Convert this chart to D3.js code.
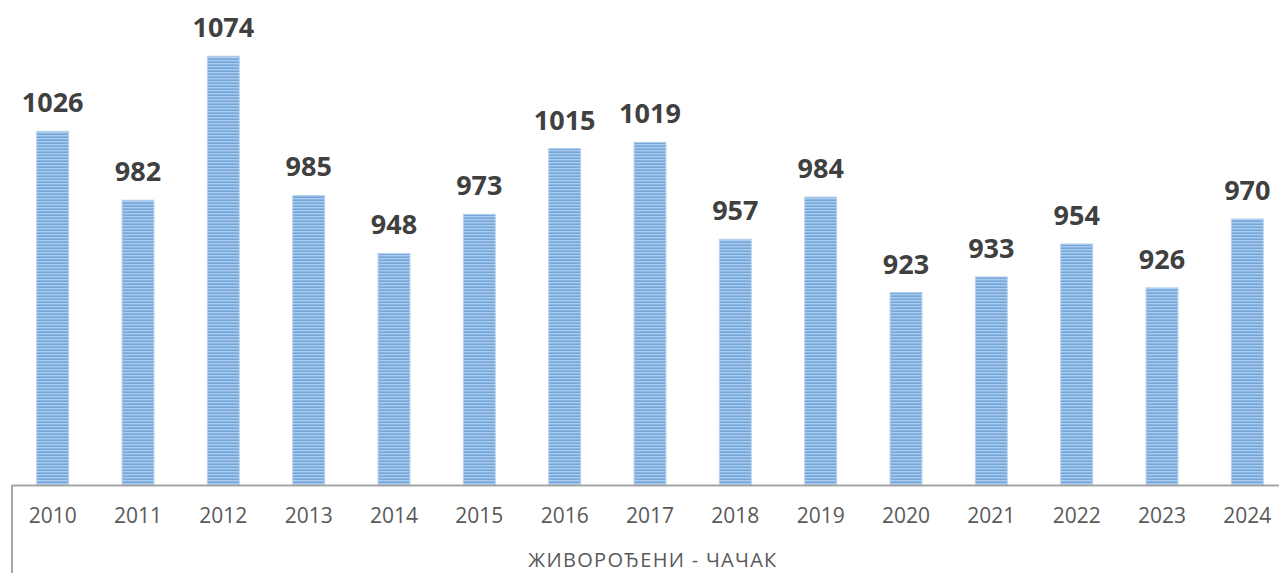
<!DOCTYPE html>
<html><head><meta charset="utf-8">
<script src="https://cdn.jsdelivr.net/npm/d3@7"></script>
<style>html,body{margin:0;padding:0;background:#fff;}svg{display:block;}</style>
</head><body><svg id="c" width="1279" height="573"></svg>
<script>
const years = ["2010","2011","2012","2013","2014","2015","2016","2017","2018","2019","2020","2021","2022","2023","2024"];
const births = [1026,982,1074,985,948,973,1015,1019,957,984,923,933,954,926,970];
const axisTitle = "ЖИВОРОЂЕНИ - ЧАЧАК";

const svg = d3.select("#c");
const W = 1279, H = 573;
const baseY = 485;
const x = d3.scaleBand().domain(years).range([10, 1290]).paddingInner(0.625).paddingOuter(0.3125);
const y = d3.scaleLinear().domain([800, 1100]).range([baseY, baseY - 300*1.565]);

const defs = svg.append("defs");
const pat = defs.append("pattern").attr("id","stripe").attr("patternUnits","userSpaceOnUse")
  .attr("width", 8).attr("height", 3);
pat.append("rect").attr("width",8).attr("height",3).attr("fill","#a9cdef");
pat.append("rect").attr("y",1.5).attr("width",8).attr("height",1.3).attr("fill","#6a9cd4");

svg.append("g").selectAll("rect").data(births).join("rect")
  .attr("x",(d,i)=>x(years[i]))
  .attr("y",d=>y(d))
  .attr("width",x.bandwidth())
  .attr("height",d=>baseY-y(d))
  .attr("fill","url(#stripe)")
  .attr("stroke","#bcd6f0").attr("stroke-width",1);

svg.append("g").selectAll("text").data(births).join("text")
  .attr("x",(d,i)=>x(years[i])+x.bandwidth()/2)
  .attr("y",d=>y(d)-19)
  .attr("text-anchor","middle")
  .attr("font-family","'Open Sans', sans-serif")
  .attr("font-weight","bold")
  .attr("font-size",27)
  .attr("fill","#404040")
  .text(d=>d);

// axis
const ax = svg.append("g").attr("transform",`translate(0,${baseY})`)
  .call(d3.axisBottom(x).tickSize(0).tickPadding(23));
ax.select(".domain").remove();
ax.selectAll("text").attr("font-family","'Open Sans', sans-serif").attr("font-size",21).attr("fill","#595959");
svg.append("line").attr("x1",12).attr("x2",W).attr("y1",baseY+0.5).attr("y2",baseY+0.5).attr("stroke","#a6a6a6").attr("stroke-width",2);
svg.append("line").attr("x1",12).attr("x2",12).attr("y1",baseY).attr("y2",H).attr("stroke","#a6a6a6").attr("stroke-width",2);

svg.append("text").attr("x",653).attr("y",567).attr("text-anchor","middle")
  .attr("font-family","'Open Sans', sans-serif").attr("font-size",20).attr("fill","#595959")
  .attr("letter-spacing",1.3)
  .text(axisTitle);
</script></body></html>
